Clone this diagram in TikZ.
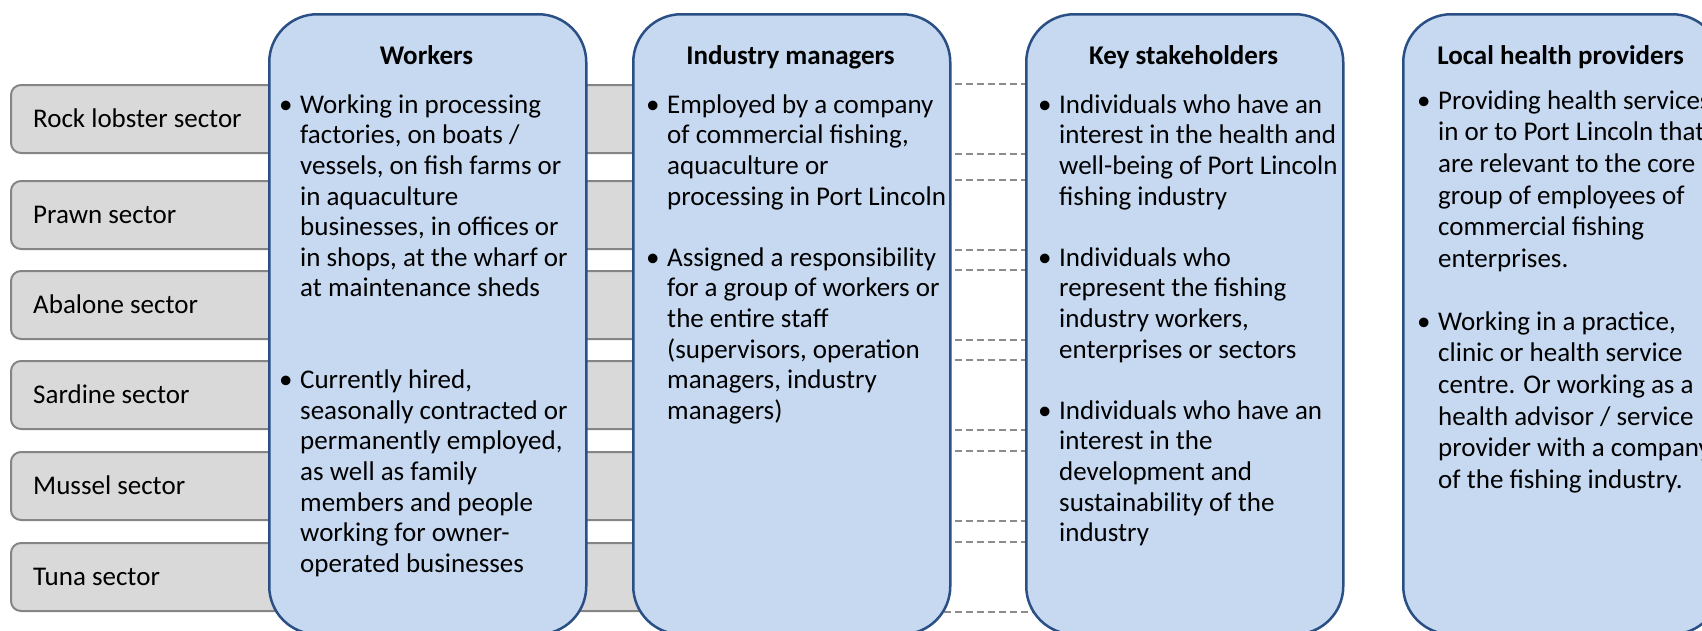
\documentclass[tikz,border=0pt]{standalone}
\usepackage{fontspec}
\setmainfont{Carlito}
\usetikzlibrary{backgrounds}
\definecolor{boxfill}{HTML}{C6D9F1}
\definecolor{boxline}{HTML}{2A4F85}
\definecolor{barfill}{HTML}{D9D9D9}
\definecolor{barline}{HTML}{858585}
\definecolor{dashgray}{HTML}{8C8C8C}
\newcommand\mybullet{\llap{\makebox[21pt][l]{\textbullet}}}
\begin{document}
\begin{tikzpicture}[x=1pt,y=-1pt,
  bluebox/.style={draw=boxline, fill=boxfill, line width=2.5pt, rounded corners=48pt,
    minimum width=317pt, minimum height=620pt, anchor=north west, inner sep=0pt},
  sectorbar/.style={draw=barline, fill=barfill, line width=2pt, rounded corners=10pt,
    minimum width=780pt, minimum height=68pt, anchor=north west, inner sep=0pt},
  sectorlabel/.style={anchor=base west, inner sep=0pt, font=\fontsize{27}{30.6}\selectfont},
  dashline/.style={draw=dashgray, line width=2pt, dash pattern=on 7pt off 4pt},
  titletext/.style={anchor=base, inner sep=0pt, font=\bfseries\fontsize{27}{30.6}\selectfont},
  bodytext/.style={anchor=north west, inner sep=0pt, align=left, yshift=21.42pt,
    font=\fontsize{27}{30.6}\selectfont},
  bodytextwide/.style={anchor=north west, inner sep=0pt, align=left, yshift=22.12pt,
    font=\fontsize{27}{31.6}\selectfont}
]
\useasboundingbox (0,0) rectangle (1702,630);

% blue boxes
\node[bluebox] (wk) at (268,13) {};
\node[bluebox] (im) at (632,13) {};
\node[bluebox] (ks) at (1025,13) {};
\node[bluebox] (lh) at (1402,13) {};

% sector bars and dashed links (behind boxes)
\begin{scope}[on background layer]
  \foreach \t/\n/\lab in {84/s1/Rock lobster sector, 180/s2/Prawn sector, 270/s3/Abalone sector,
                          360/s4/Sardine sector, 451/s5/Mussel sector, 542/s6/Tuna sector}{
    \node[sectorbar] (\n) at (10,\t) {};
    \node[sectorlabel] (\n l) at (33,\t+43) {\lab};
    \draw[dashline] ([xshift=-30pt]im.east |- \n.north) -- ([xshift=30pt]ks.west |- \n.north);
    \draw[dashline] ([xshift=-30pt]im.east |- \n.south) -- ([xshift=30pt]ks.west |- \n.south);
  }
\end{scope}

% titles
\node[titletext] (wkt) at (426.5,64) {Workers};
\node[titletext] (imt) at (790.5,64) {Industry managers};
\node[titletext] (kst) at (1183.5,64) {Key stakeholders};
\node[titletext] (lht) at (1560.5,64) {Local health providers};

% Workers
\node[bodytext] (wk1) at (300,113) {\strut\mybullet Working in processing\\factories, on boats /\\vessels, on fish farms or\\in aquaculture\\businesses, in offices or\\in shops, at the wharf or\\at maintenance sheds};
\node[bodytext] (wk2) at (300,388.4) {\strut\mybullet Currently hired,\\seasonally contracted or\\permanently employed,\\as well as family\\members and people\\working for owner-\\operated businesses};

% Industry managers
\node[bodytext] (im1) at (667,113) {\strut\mybullet Employed by a company\\of commercial fishing,\\aquaculture or\\processing in Port Lincoln};
\node[bodytext] (im2) at (667,266) {\strut\mybullet Assigned a responsibility\\for a group of workers or\\the entire staff\\(supervisors, operation\\managers, industry\\managers)};

% Key stakeholders
\node[bodytext] (ks1) at (1059,113) {\strut\mybullet Individuals who have an\\interest in the health and\\well-being of Port Lincoln\\fishing industry};
\node[bodytext] (ks2) at (1059,266) {\strut\mybullet Individuals who\\represent the fishing\\industry workers,\\enterprises or sectors};
\node[bodytext] (ks3) at (1059,419) {\strut\mybullet Individuals who have an\\interest in the\\development and\\sustainability of the\\industry};

% Local health providers
\node[bodytextwide] (lh1) at (1438,109) {\strut\mybullet Providing health services\\in or to Port Lincoln that\\are relevant to the core\\group of employees of\\commercial fishing\\enterprises.};
\node[bodytextwide] (lh2) at (1438,330) {\strut\mybullet Working in a practice,\\clinic or health service\\centre. Or working as a\\health advisor / service\\provider with a company\\of the fishing industry.};
\end{tikzpicture}
\end{document}
